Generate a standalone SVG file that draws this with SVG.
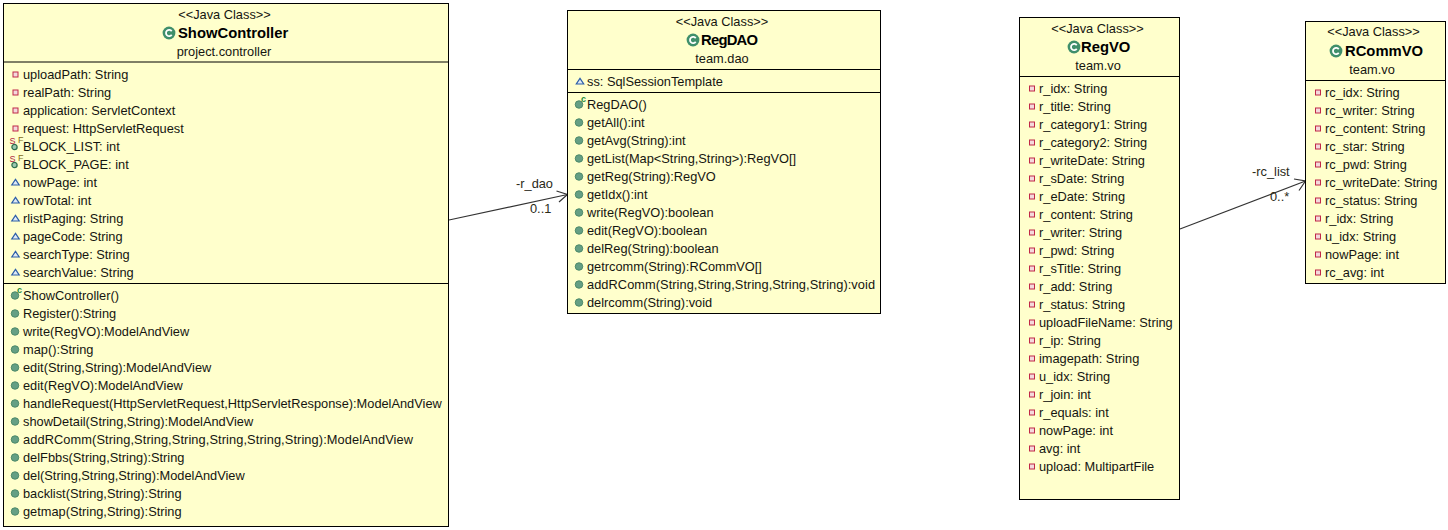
<svg xmlns="http://www.w3.org/2000/svg" width="1448" height="530" viewBox="0 0 1448 530">
<style>
text{font-family:"Liberation Sans",Arial,sans-serif;font-size:12.8px;fill:#151510}
.c{text-anchor:middle}
.t{font-weight:bold;font-size:14.8px;fill:#000}
.box{fill:#ffffcc;stroke:#000;stroke-width:1}
.sep{stroke:#000;stroke-width:1}
.conn{fill:none;stroke:#333;stroke-width:1.2}
.lb{fill:#2a2a18}
.sm{font-size:9px}
</style>
<defs>
<g id="cls"><circle r="6.4" fill="#3f8f6b"/><path d="M2.7-1.7A3.1 3.1 0 1 0 2.7 1.7" fill="none" stroke="#fff" stroke-width="1.8"/></g>
<g id="pri"><rect x="-2.5" y="-2.5" width="5" height="5" fill="#f4d8dc" stroke="#c02848"/></g>
<g id="pkg"><path d="M0-3.2L3.7 2.5H-3.7Z" fill="#dfeaf6" stroke="#2c5ea8" stroke-width="1.2"/></g>
<g id="pub"><circle r="3.8" fill="#659f84" stroke="#3f7f5f" stroke-width=".8"/></g>
<g id="ctor"><use href="#pub"/><text class="sm" x="2" y="-2.5" style="font-weight:bold;fill:#1d8a3c">c</text></g>
<g id="sf"><circle cx="0" cy="1" r="2.600" fill="#9cc8b0" stroke="#2f7050" stroke-width="1.3"/><text class="sm" x="-5" y="-2" style="fill:#b02040">S</text><text class="sm" x="3.5" y="-3" style="fill:#806a20">F</text></g>
</defs>
<g id="connectors">
<path class="conn" d="M449 220L567.500 194.500"/>
<path class="conn" d="M556.500 191L567.500 194.500L559 202"/>
<path class="conn" d="M1180 229L1305.500 181"/>
<path class="conn" d="M1294 179L1305.500 181L1299 190.500"/>
<text class="lb" x="516" y="188">-r_dao</text>
<text class="lb" x="530" y="213">0..1</text>
<text class="lb" x="1252" y="176">-rc_list</text>
<text class="lb" x="1270" y="201">0..*</text>
</g>
<g id="ShowController">
<rect class="box" x="3.5" y="3.5" width="445" height="523"/>
<path class="sep" d="M3.5 62H448.5M3.5 283.5H448.5"/>
<text class="c" x="224.500" y="18.500">&lt;&lt;Java Class&gt;&gt;</text>
<use href="#cls" x="169" y="33"/><text class="t" x="178" y="38">ShowController</text>
<text class="c" x="224" y="56">project.controller</text>
<use href="#pri" x="15.500" y="74.500"/><text x="23" y="79">uploadPath: String</text>
<use href="#pri" x="15.500" y="92.500"/><text x="23" y="97">realPath: String</text>
<use href="#pri" x="15.500" y="110.500"/><text x="23" y="115">application: ServletContext</text>
<use href="#pri" x="15.500" y="128.500"/><text x="23" y="133">request: HttpServletRequest</text>
<use href="#sf" x="14.500" y="146"/><text x="23" y="151">BLOCK_LIST: int</text>
<use href="#sf" x="14.500" y="164"/><text x="23" y="169">BLOCK_PAGE: int</text>
<use href="#pkg" x="15.500" y="182.500"/><text x="23" y="187">nowPage: int</text>
<use href="#pkg" x="15.500" y="200.500"/><text x="23" y="205">rowTotal: int</text>
<use href="#pkg" x="15.500" y="218.500"/><text x="23" y="223">rlistPaging: String</text>
<use href="#pkg" x="15.500" y="236.500"/><text x="23" y="241">pageCode: String</text>
<use href="#pkg" x="15.500" y="254.500"/><text x="23" y="259">searchType: String</text>
<use href="#pkg" x="15.500" y="272.500"/><text x="23" y="277">searchValue: String</text>
<use href="#ctor" x="15" y="295.500"/><text x="23" y="300">ShowController()</text>
<use href="#pub" x="15" y="313.500"/><text x="23" y="318">Register():String</text>
<use href="#pub" x="15" y="331.500"/><text x="23" y="336">write(RegVO):ModelAndView</text>
<use href="#pub" x="15" y="349.500"/><text x="23" y="354">map():String</text>
<use href="#pub" x="15" y="367.500"/><text x="23" y="372">edit(String,String):ModelAndView</text>
<use href="#pub" x="15" y="385.500"/><text x="23" y="390">edit(RegVO):ModelAndView</text>
<use href="#pub" x="15" y="403.500"/><text x="23" y="408">handleRequest(HttpServletRequest,HttpServletResponse):ModelAndView</text>
<use href="#pub" x="15" y="421.500"/><text x="23" y="426">showDetail(String,String):ModelAndView</text>
<use href="#pub" x="15" y="439.500"/><text x="23" y="444" textLength="390">addRComm(String,String,String,String,String,String):ModelAndView</text>
<use href="#pub" x="15" y="457.500"/><text x="23" y="462">delFbbs(String,String):String</text>
<use href="#pub" x="15" y="475.500"/><text x="23" y="480">del(String,String,String):ModelAndView</text>
<use href="#pub" x="15" y="493.500"/><text x="23" y="498">backlist(String,String):String</text>
<use href="#pub" x="15" y="511.500"/><text x="23" y="516">getmap(String,String):String</text>
</g>
<g id="RegDAO">
<rect class="box" x="567.500" y="10.500" width="313" height="303"/>
<path class="sep" d="M567.500 69.500H880.500M567.500 92.500H880.500"/>
<text class="c" x="722" y="26">&lt;&lt;Java Class&gt;&gt;</text>
<use href="#cls" x="693" y="40"/><text class="t" x="701" y="45" textLength="57">RegDAO</text>
<text class="c" x="722" y="63">team.dao</text>
<use href="#pkg" x="580" y="81.500"/><text x="587" y="86">ss: SqlSessionTemplate</text>
<use href="#ctor" x="579" y="104.500"/><text x="587" y="109">RegDAO()</text>
<use href="#pub" x="579" y="122.500"/><text x="587" y="127">getAll():int</text>
<use href="#pub" x="579" y="140.500"/><text x="587" y="145">getAvg(String):int</text>
<use href="#pub" x="579" y="158.500"/><text x="587" y="163">getList(Map&lt;String,String&gt;):RegVO[]</text>
<use href="#pub" x="579" y="176.500"/><text x="587" y="181">getReg(String):RegVO</text>
<use href="#pub" x="579" y="194.500"/><text x="587" y="199">getIdx():int</text>
<use href="#pub" x="579" y="212.500"/><text x="587" y="217">write(RegVO):boolean</text>
<use href="#pub" x="579" y="230.500"/><text x="587" y="235">edit(RegVO):boolean</text>
<use href="#pub" x="579" y="248.500"/><text x="587" y="253">delReg(String):boolean</text>
<use href="#pub" x="579" y="266.500"/><text x="587" y="271">getrcomm(String):RCommVO[]</text>
<use href="#pub" x="579" y="284.500"/><text x="587" y="289" textLength="288">addRComm(String,String,String,String,String):void</text>
<use href="#pub" x="579" y="302.500"/><text x="587" y="307">delrcomm(String):void</text>
</g>
<g id="RegVO">
<rect class="box" x="1019.500" y="17.500" width="160" height="482"/>
<path class="sep" d="M1019.500 76.500H1179.500"/>
<text class="c" x="1097.500" y="33">&lt;&lt;Java Class&gt;&gt;</text>
<use href="#cls" x="1074" y="47"/><text class="t" x="1081" y="52">RegVO</text>
<text class="c" x="1098" y="70">team.vo</text>
<use href="#pri" x="1032" y="88.500"/><text x="1039" y="93">r_idx: String</text>
<use href="#pri" x="1032" y="106.500"/><text x="1039" y="111">r_title: String</text>
<use href="#pri" x="1032" y="124.500"/><text x="1039" y="129">r_category1: String</text>
<use href="#pri" x="1032" y="142.500"/><text x="1039" y="147">r_category2: String</text>
<use href="#pri" x="1032" y="160.500"/><text x="1039" y="165">r_writeDate: String</text>
<use href="#pri" x="1032" y="178.500"/><text x="1039" y="183">r_sDate: String</text>
<use href="#pri" x="1032" y="196.500"/><text x="1039" y="201">r_eDate: String</text>
<use href="#pri" x="1032" y="214.500"/><text x="1039" y="219">r_content: String</text>
<use href="#pri" x="1032" y="232.500"/><text x="1039" y="237">r_writer: String</text>
<use href="#pri" x="1032" y="250.500"/><text x="1039" y="255">r_pwd: String</text>
<use href="#pri" x="1032" y="268.500"/><text x="1039" y="273">r_sTitle: String</text>
<use href="#pri" x="1032" y="286.500"/><text x="1039" y="291">r_add: String</text>
<use href="#pri" x="1032" y="304.500"/><text x="1039" y="309">r_status: String</text>
<use href="#pri" x="1032" y="322.500"/><text x="1039" y="327">uploadFileName: String</text>
<use href="#pri" x="1032" y="340.500"/><text x="1039" y="345">r_ip: String</text>
<use href="#pri" x="1032" y="358.500"/><text x="1039" y="363">imagepath: String</text>
<use href="#pri" x="1032" y="376.500"/><text x="1039" y="381">u_idx: String</text>
<use href="#pri" x="1032" y="394.500"/><text x="1039" y="399">r_join: int</text>
<use href="#pri" x="1032" y="412.500"/><text x="1039" y="417">r_equals: int</text>
<use href="#pri" x="1032" y="430.500"/><text x="1039" y="435">nowPage: int</text>
<use href="#pri" x="1032" y="448.500"/><text x="1039" y="453">avg: int</text>
<use href="#pri" x="1032" y="466.500"/><text x="1039" y="471">upload: MultipartFile</text>
</g>
<g id="RCommVO">
<rect class="box" x="1305.500" y="21.500" width="140" height="262"/>
<path class="sep" d="M1305.500 80.500H1445.500"/>
<text class="c" x="1373.500" y="36">&lt;&lt;Java Class&gt;&gt;</text>
<use href="#cls" x="1336" y="51"/><text class="t" x="1345" y="56">RCommVO</text>
<text class="c" x="1372" y="74">team.vo</text>
<use href="#pri" x="1318" y="92.500"/><text x="1325" y="97">rc_idx: String</text>
<use href="#pri" x="1318" y="110.500"/><text x="1325" y="115">rc_writer: String</text>
<use href="#pri" x="1318" y="128.500"/><text x="1325" y="133">rc_content: String</text>
<use href="#pri" x="1318" y="146.500"/><text x="1325" y="151">rc_star: String</text>
<use href="#pri" x="1318" y="164.500"/><text x="1325" y="169">rc_pwd: String</text>
<use href="#pri" x="1318" y="182.500"/><text x="1325" y="187">rc_writeDate: String</text>
<use href="#pri" x="1318" y="200.500"/><text x="1325" y="205">rc_status: String</text>
<use href="#pri" x="1318" y="218.500"/><text x="1325" y="223">r_idx: String</text>
<use href="#pri" x="1318" y="236.500"/><text x="1325" y="241">u_idx: String</text>
<use href="#pri" x="1318" y="254.500"/><text x="1325" y="259">nowPage: int</text>
<use href="#pri" x="1318" y="272.500"/><text x="1325" y="277">rc_avg: int</text>
</g>
</svg>
